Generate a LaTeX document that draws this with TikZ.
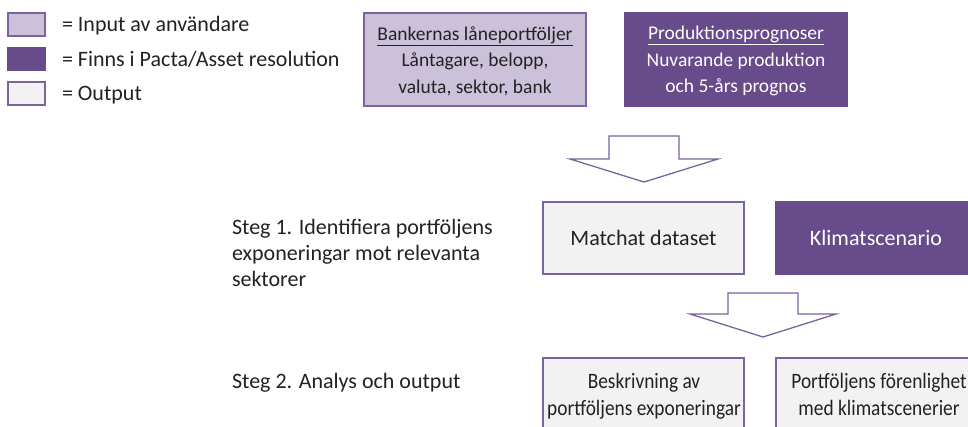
\documentclass[tikz,border=0pt]{standalone}
\usepackage{fontspec}
\usepackage{graphicx}
\setmainfont{Carlito}
\definecolor{lightpurple}{HTML}{CCC1DA}
\definecolor{darkpurple}{HTML}{674B8A}
\definecolor{outgray}{HTML}{F2F2F2}
\definecolor{bordpurple}{HTML}{7C629E}
\definecolor{txt}{HTML}{222222}
\newcommand{\narrow}[1]{\scalebox{0.88}[1]{#1}}
\begin{document}
\begin{tikzpicture}[x=1bp,y=-1bp,
  every node/.style={inner sep=0pt, outer sep=0pt, text=txt},
  legbox/.style={draw=bordpurple, line width=1.3bp, minimum width=37bp, minimum height=23bp},
  inbox/.style={draw=bordpurple, line width=1.3bp, fill=lightpurple},
  pabox/.style={draw=darkpurple, line width=1.3bp, fill=darkpurple, text=white},
  outbox/.style={draw=bordpurple, line width=1.3bp, fill=outgray},
  bigtxt/.style={font=\fontsize{22bp}{26bp}\selectfont},
  boxtxt/.style={font=\fontsize{22bp}{26bp}\selectfont},
  midtxt/.style={font=\fontsize{19.5bp}{26.5bp}\selectfont, align=center},
  smalltxt/.style={font=\fontsize{22bp}{27bp}\selectfont, align=center},
  blockarrow/.style={draw=bordpurple, line width=1.3bp, fill=white, line join=miter}
]
\useasboundingbox (0,0) rectangle (968,426);
\clip (0,0) rectangle (968,426);
\fill[white] (0,0) rectangle (968,426);

% legend
\node[legbox, fill=lightpurple] (l1) at (26.5,24.5) {};
\node[legbox, fill=darkpurple, draw=darkpurple] (l2) at (26.5,59) {};
\node[legbox, fill=outgray] (l3) at (26.5,93.5) {};
\node[bigtxt, anchor=base west] (t1) at (62,31) {= Input av användare};
\node[bigtxt, anchor=base west] (t2) at (62,66) {= Finns i Pacta/Asset resolution};
\node[bigtxt, anchor=base west] (t3) at (62,100) {= Output};

% top boxes
\node[inbox, minimum width=222bp, minimum height=93bp] (bank) at (475,59.5) {};
\node[midtxt] (bankt) at (475,61)
  {\underline{Bankernas låneportföljer}\\Låntagare, belopp,\\valuta, sektor, bank};
\node[pabox, minimum width=222bp, minimum height=93bp] (prod) at (736,59.5) {};
\node[midtxt, text=white] (prodt) at (736,61)
  {\underline{Produktionsprognoser}\\Nuvarande produktion\\och 5-års prognos};

% arrow 1
\draw[blockarrow] (609,136) -- (679,136) -- (679,159) -- (718,159) -- (644,182)
  -- (570,159) -- (609,159) -- cycle;

% step 1 text
\node[bigtxt, anchor=west, align=left] (s1) at (232,253)
  {Steg 1. Identifiera portföljens\\exponeringar mot relevanta\\sektorer};

% middle boxes
\node[outbox, boxtxt, minimum width=201bp, minimum height=72bp] (match) at (643.5,238) {Matchat dataset};
\node[pabox, boxtxt, minimum width=200bp, minimum height=72bp] (klimat) at (876,238) {Klimatscenario};

% arrow 2
\draw[blockarrow] (728,293) -- (798,293) -- (798,314) -- (836,314) -- (763,337)
  -- (690,314) -- (728,314) -- cycle;

% step 2
\node[bigtxt, anchor=base west] (s2) at (232,388) {Steg 2. Analys och output};

% bottom boxes
\node[outbox, minimum width=201bp, minimum height=90bp] (besk) at (643.5,403) {};
\node[outbox, minimum width=206bp, minimum height=90bp] (port) at (879,403) {};
\node[smalltxt, anchor=north] (beskt) at (644,373)
  {\narrow{Beskrivning av}\\\narrow{portföljens exponeringar}};
\node[smalltxt, anchor=north] (portt) at (879,373)
  {\narrow{Portföljens förenlighet}\\\narrow{med klimatscenerier}};
\end{tikzpicture}
\end{document}
